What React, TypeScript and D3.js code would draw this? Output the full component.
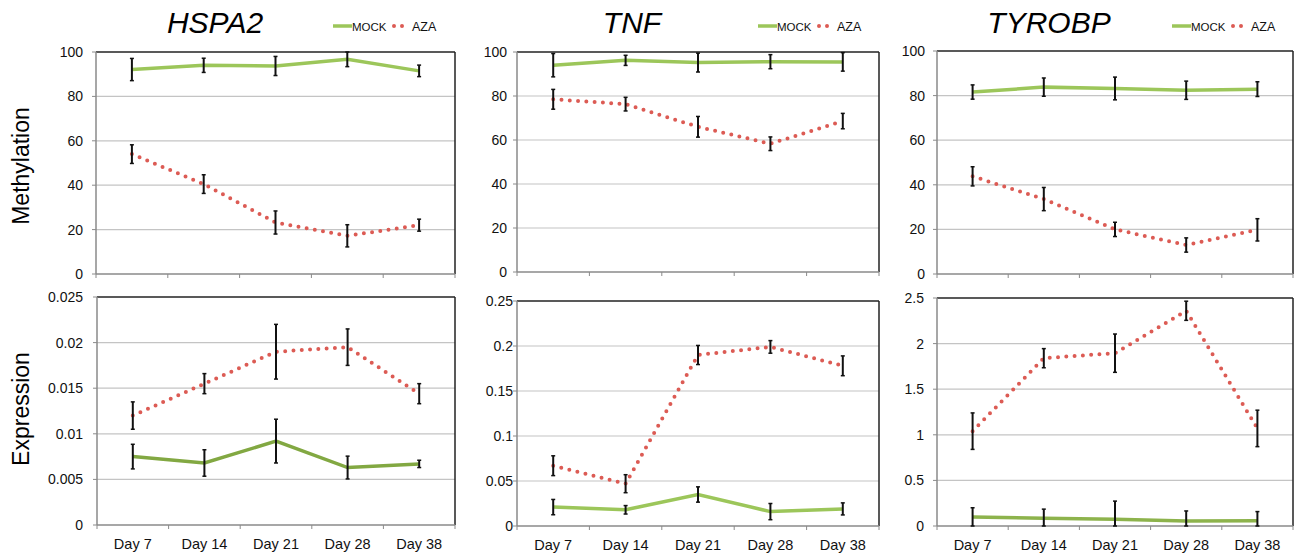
import React from 'react';
import * as d3 from 'd3';

// categories
const days = ['Day 7', 'Day 14', 'Day 21', 'Day 28', 'Day 38'];
const genes = ['HSPA2', 'TNF', 'TYROBP'];
const seriesNames = ['MOCK', 'AZA'];

// methylation (%)
const hspa2MethMock = [92.1, 94.0, 93.7, 96.7, 91.5];
const hspa2MethMockErr = [5.0, 3.2, 4.3, 3.3, 2.6];
const hspa2MethAza = [54.0, 40.5, 23.2, 17.2, 22.0];
const hspa2MethAzaErr = [4.2, 4.2, 5.2, 5.0, 2.7];

const tnfMethMock = [94.0, 96.2, 95.2, 95.6, 95.5];
const tnfMethMockErr = [5.3, 2.3, 4.3, 3.2, 4.2];
const tnfMethAza = [78.5, 76.3, 66.0, 58.3, 68.6];
const tnfMethAzaErr = [4.5, 3.1, 4.7, 3.1, 3.5];

const tyrobpMethMock = [81.6, 83.8, 83.2, 82.4, 82.9];
const tyrobpMethMockErr = [3.2, 4.1, 5.1, 4.1, 3.3];
const tyrobpMethAza = [43.8, 33.6, 20.0, 13.0, 19.8];
const tyrobpMethAzaErr = [4.3, 5.2, 3.2, 3.2, 5.0];

// expression
const hspa2ExprMock = [0.0075, 0.0068, 0.0092, 0.0063, 0.0067];
const hspa2ExprMockErr = [0.00135, 0.00145, 0.0024, 0.00125, 0.0004];
const hspa2ExprAza = [0.012, 0.0155, 0.019, 0.0195, 0.0144];
const hspa2ExprAzaErr = [0.0015, 0.0011, 0.003, 0.002, 0.0011];

const tnfExprMock = [0.021, 0.018, 0.035, 0.016, 0.019];
const tnfExprMockErr = [0.0085, 0.0047, 0.0085, 0.009, 0.0067];
const tnfExprAza = [0.067, 0.047, 0.19, 0.199, 0.178];
const tnfExprAzaErr = [0.011, 0.01, 0.0106, 0.007, 0.011];

const tyrobpExprMock = [0.1, 0.085, 0.073, 0.055, 0.058];
const tyrobpExprMockErr = [0.1, 0.1, 0.2, 0.11, 0.1];
const tyrobpExprAza = [1.04, 1.84, 1.895, 2.36, 1.07];
const tyrobpExprAzaErr = [0.2, 0.105, 0.21, 0.105, 0.2];

// tick values
const methTicks = [0, 20, 40, 60, 80, 100];
const hspa2ExprTicks = [0, 0.005, 0.01, 0.015, 0.02, 0.025];
const tnfExprTicks = [0, 0.05, 0.1, 0.15, 0.2, 0.25];
const tyrobpExprTicks = [0, 0.5, 1, 1.5, 2, 2.5];

const GREEN = '#9cc65a';
const RED = '#dc5b54';
const FONT = 'Liberation Sans, Arial, Helvetica, sans-serif';

const panels = [
  { box: [96, 455, 52, 274], ticks: methTicks, mock: hspa2MethMock, mockErr: hspa2MethMockErr, aza: hspa2MethAza, azaErr: hspa2MethAzaErr, gap: 13, title: 0, titleX: 215, legendX: 333, green: GREEN },
  { box: [517, 879, 52, 272], ticks: methTicks, mock: tnfMethMock, mockErr: tnfMethMockErr, aza: tnfMethAza, azaErr: tnfMethAzaErr, gap: 10, title: 1, titleX: 632, legendX: 758, green: GREEN },
  { box: [937, 1293, 51, 274], ticks: methTicks, mock: tyrobpMethMock, mockErr: tyrobpMethMockErr, aza: tyrobpMethAza, azaErr: tyrobpMethAzaErr, gap: 12, title: 2, titleX: 1049, legendX: 1172, green: GREEN },
  { box: [97, 455, 297, 525], ticks: hspa2ExprTicks, mock: hspa2ExprMock, mockErr: hspa2ExprMockErr, aza: hspa2ExprAza, azaErr: hspa2ExprAzaErr, gap: 14, xLabels: true, green: '#82a842' },
  { box: [517, 879, 301, 526], ticks: tnfExprTicks, mock: tnfExprMock, mockErr: tnfExprMockErr, aza: tnfExprAza, azaErr: tnfExprAzaErr, gap: 4, xLabels: true, green: GREEN },
  { box: [937, 1293, 298, 526], ticks: tyrobpExprTicks, mock: tyrobpExprMock, mockErr: tyrobpExprMockErr, aza: tyrobpExprAza, azaErr: tyrobpExprAzaErr, gap: 13, xLabels: true, green: '#8db34c' },
];

const fmt = (v) => String(+v.toFixed(6));

function Panel({ p }) {
  const [x0, x1, y0, y1] = p.box;
  const x = d3.scaleBand().domain(days).range([x0, x1]).padding(0);
  const ymax = p.ticks[p.ticks.length - 1];
  const y = d3.scaleLinear().domain([0, ymax]).range([y1, y0]);
  const cx = (d) => x(d) + x.bandwidth() / 2;
  const line = d3.line().x((d) => cx(d[0])).y((d) => y(d[1]));
  const mockPts = days.map((d, i) => [d, p.mock[i]]);
  const azaPts = days.map((d, i) => [d, p.aza[i]]);
  const bounds = [x0, ...days.map((d) => x(d) + x.bandwidth())];

  const errBars = (vals, errs, key) =>
    days.map((d, i) => {
      const lo = y(Math.max(0, vals[i] - errs[i]));
      const hi = y(Math.min(ymax, vals[i] + errs[i]));
      const c = cx(d);
      return (
        <g key={key + i} stroke="#111" strokeWidth={2}>
          <line x1={c} x2={c} y1={lo} y2={hi} />
          <line x1={c - 2} x2={c + 2} y1={lo} y2={lo} strokeWidth={1.5} />
          <line x1={c - 2} x2={c + 2} y1={hi} y2={hi} strokeWidth={1.5} />
        </g>
      );
    });

  return (
    <g>
      {p.ticks.slice(1, -1).map((t) => (
        <line key={'g' + t} x1={x0} x2={x1} y1={y(t)} y2={y(t)} stroke="#c4c4c4" strokeWidth={1.2} />
      ))}
      {/* frame */}
      <line x1={x0} x2={x1} y1={y0} y2={y0} stroke="#222" strokeWidth={1.5} />
      <line x1={x1} x2={x1} y1={y0} y2={y1} stroke="#222" strokeWidth={1.5} />
      <line x1={x0} x2={x0} y1={y0} y2={y1} stroke="#8a8a8a" strokeWidth={1.5} />
      <line x1={x0} x2={x1} y1={y1} y2={y1} stroke="#8a8a8a" strokeWidth={1.5} />
      {p.ticks.map((t) => (
        <g key={'t' + t}>
          <line x1={x0 - 4} x2={x0} y1={y(t)} y2={y(t)} stroke="#8a8a8a" strokeWidth={1} />
          <text x={x0 - p.gap} y={y(t)} dy="0.35em" textAnchor="end" fontSize={14} fill="#111">
            {fmt(t)}
          </text>
        </g>
      ))}
      {bounds.map((b, i) => (
        <line key={'b' + i} x1={b} x2={b} y1={y1} y2={y1 + 4} stroke="#8a8a8a" strokeWidth={1} />
      ))}
      {p.xLabels &&
        days.map((d) => (
          <text key={d} x={cx(d)} y={y1 + 24} textAnchor="middle" fontSize={14.5} fill="#111">
            {d}
          </text>
        ))}
      <path d={line(mockPts)} fill="none" stroke={p.green} strokeWidth={3.5} />
      <path d={line(azaPts)} fill="none" stroke={RED} strokeWidth={4} strokeLinecap="round" strokeDasharray="0 8.3" />
      {errBars(p.mock, p.mockErr, 'm')}
      {errBars(p.aza, p.azaErr, 'a')}
      {p.title !== undefined && (
        <g>
          <text x={p.titleX} y={33} textAnchor="middle" fontSize={30} fontStyle="italic" fill="#000">
            {genes[p.title]}
          </text>
          <line x1={p.legendX} x2={p.legendX + 19} y1={26} y2={26} stroke={GREEN} strokeWidth={3.5} />
          <text x={p.legendX + 19} y={31} fontSize={11.5} fill="#111">{seriesNames[0]}</text>
          <line x1={p.legendX + 61} x2={p.legendX + 77} y1={26} y2={26} stroke={RED} strokeWidth={4} strokeLinecap="round" strokeDasharray="0 8" />
          <text x={p.legendX + 79} y={31} fontSize={12.5} fill="#111">{seriesNames[1]}</text>
        </g>
      )}
    </g>
  );
}

export default function App() {
  return (
    <svg
      width={1294}
      height={556}
      style={{ position: 'absolute', left: 0, top: 0, background: '#fff' }}
      fontFamily={FONT}
    >
      <rect width={1294} height={556} fill="#fff" />
      <text transform="translate(29,166) rotate(-90)" textAnchor="middle" fontSize={23} fill="#000">
        Methylation
      </text>
      <text transform="translate(29,409) rotate(-90)" textAnchor="middle" fontSize={23} fill="#000">
        Expression
      </text>
      {panels.map((p, i) => (
        <Panel key={i} p={p} />
      ))}
    </svg>
  );
}
